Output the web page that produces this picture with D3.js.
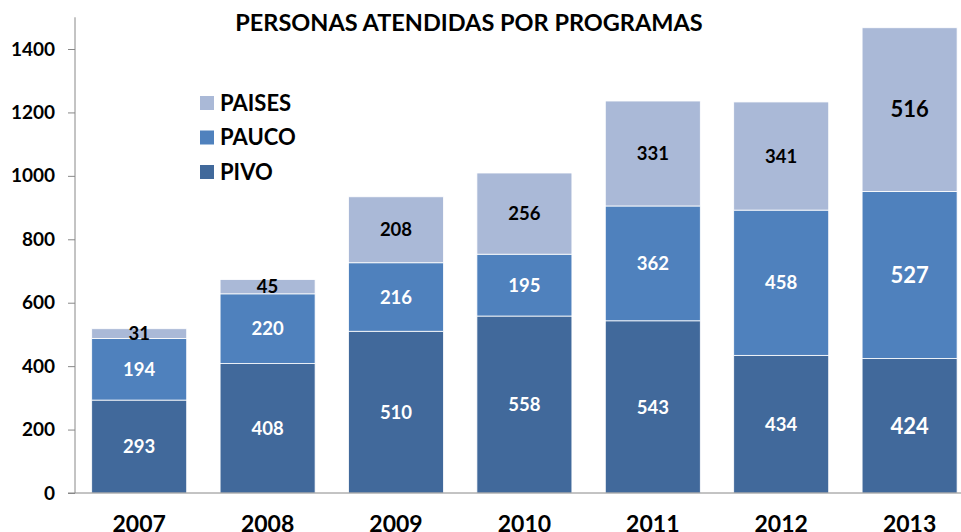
<!DOCTYPE html>
<html>
<head>
<meta charset="utf-8">
<script src="https://cdn.jsdelivr.net/npm/d3@7"></script>
<style>
  body { margin: 0; background: #fff; }
  svg { display: block; font-family: Lato, "Open Sans", sans-serif; }
</style>
</head>
<body>
<svg id="svg" width="961" height="532"></svg>
<script>
var years = ["2007", "2008", "2009", "2010", "2011", "2012", "2013"]
var pivo = [293, 408, 510, 558, 543, 434, 424]
var pauco = [194, 220, 216, 195, 362, 458, 527]
var paises = [31, 45, 208, 256, 331, 341, 516]
var seriesNames = ["PIVO", "PAUCO", "PAISES"]
var seriesColors = ["#41699b", "#4f81bd", "#aab9d7"]
var labelColors = ["#fff", "#fff", "#000"]
var yTicks = [0, 200, 400, 600, 800, 1000, 1200, 1400]

var svg = d3.select("#svg")
var left = 75, bottom = 493

var x = d3.scaleBand()
    .domain(years)
    .range([left, left + 7 * 128.4])
    .paddingInner(0.26)
    .paddingOuter(0.13)

var y = d3.scaleLinear()
    .domain([0, 1500])
    .range([bottom, bottom - 1500 * (444 / 1400)])

var rows = years.map(function (yr, i) {
    return { year: yr, PIVO: pivo[i], PAUCO: pauco[i], PAISES: paises[i] }
})
var stacked = d3.stack().keys(seriesNames)(rows)

// bars
var layers = svg.append("g").selectAll("g")
    .data(stacked)
    .enter().append("g")
    .attr("fill", function (d, i) { return seriesColors[i] })

layers.selectAll("rect")
    .data(function (d) { return d })
    .enter().append("rect")
    .attr("x", function (d) { return x(d.data.year) })
    .attr("y", function (d) { return y(d[1]) })
    .attr("width", x.bandwidth())
    .attr("height", function (d) { return y(d[0]) - y(d[1]) })
    .attr("stroke", "#fff")
    .attr("stroke-width", 0.8)

// value labels
stacked.forEach(function (layer, si) {
    svg.append("g").selectAll("text")
        .data(layer)
        .enter().append("text")
        .attr("x", function (d) { return x(d.data.year) + x.bandwidth() / 2 })
        .attr("y", function (d) { return (y(d[0]) + y(d[1])) / 2 })
        .attr("dy", "0.36em")
        .attr("text-anchor", "middle")
        .attr("font-weight", "bold")
        .attr("font-size", function (d) { return d.data.year === "2013" ? 22 : 18.5 })
        .attr("fill", labelColors[si])
        .text(function (d) { return d.data[layer.key] })
})

// y axis
var yAxis = svg.append("g")
    .attr("transform", "translate(" + left + ",0)")
    .call(d3.axisLeft(y).tickValues(yTicks).tickSize(7).tickPadding(13).tickFormat(d3.format("d")))
yAxis.select(".domain").attr("stroke", "#888").attr("d", "M0," + bottom + "V" + y(1500))
yAxis.selectAll(".tick line").attr("stroke", "#888")
yAxis.selectAll(".tick text")
    .attr("fill", "#000")
    .attr("font-size", 19)
    .attr("font-weight", "bold")
    .attr("font-family", "Lato, sans-serif")

// x axis
var xAxis = svg.append("g")
    .attr("transform", "translate(0," + bottom + ")")
    .call(d3.axisBottom(x).tickSize(0).tickPadding(23))
xAxis.select(".domain").attr("stroke", "#888").attr("d", "M" + (left - 7) + ",0H961")
xAxis.selectAll(".tick text")
    .attr("fill", "#000")
    .attr("font-size", 23)
    .attr("font-weight", "bold")
    .attr("font-family", "Lato, sans-serif")

// title
svg.append("text")
    .attr("x", 469)
    .attr("y", 31)
    .attr("text-anchor", "middle")
    .attr("font-size", 23.5)
    .attr("font-weight", "bold")
    .text("PERSONAS ATENDIDAS POR PROGRAMAS")

// legend
var legendOrder = ["PAISES", "PAUCO", "PIVO"]
var legend = svg.append("g").selectAll("g")
    .data(legendOrder)
    .enter().append("g")
    .attr("transform", function (d, i) { return "translate(200," + (103 + i * 34.5) + ")" })
legend.append("rect")
    .attr("x", 0).attr("y", -7)
    .attr("width", 14).attr("height", 14)
    .attr("fill", function (d) { return seriesColors[seriesNames.indexOf(d)] })
legend.append("text")
    .attr("x", 20)
    .attr("dy", "0.36em")
    .attr("font-size", 22)
    .attr("font-weight", "bold")
    .text(function (d) { return d })
</script>
</body>
</html>
